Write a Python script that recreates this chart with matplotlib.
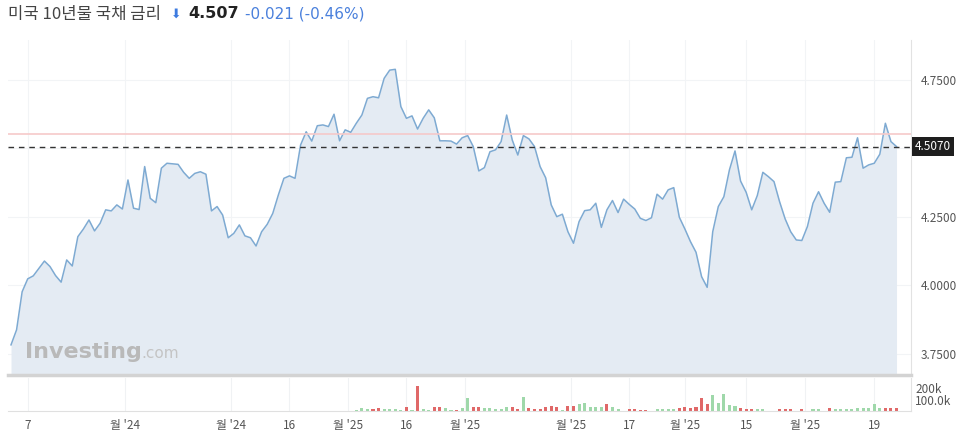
import matplotlib.pyplot as plt
import matplotlib.transforms as mtransforms
import numpy as np

plt.rcParams['font.family'] = ['Noto Sans CJK KR', 'DejaVu Sans']

# yield series (one value per session)
yields = [
    3.783, 3.838, 3.977, 4.024, 4.035, 4.062, 4.089, 4.069, 4.036, 4.012,
    4.093, 4.071, 4.178, 4.206, 4.239, 4.199, 4.227, 4.276, 4.272, 4.294,
    4.279, 4.385, 4.282, 4.277, 4.434, 4.318, 4.302, 4.428, 4.446, 4.444,
    4.442, 4.413, 4.391, 4.409, 4.415, 4.406, 4.272, 4.288, 4.257, 4.174,
    4.190, 4.221, 4.181, 4.174, 4.144, 4.196, 4.223, 4.263, 4.330, 4.391,
    4.400, 4.391, 4.513, 4.561, 4.527, 4.583, 4.586, 4.580, 4.625, 4.528,
    4.568, 4.559, 4.592, 4.622, 4.683, 4.689, 4.685, 4.756, 4.786, 4.789,
    4.653, 4.610, 4.619, 4.571, 4.610, 4.641, 4.612, 4.528, 4.528, 4.527,
    4.516, 4.539, 4.547, 4.507, 4.418, 4.430, 4.488, 4.495, 4.525, 4.622,
    4.531, 4.476, 4.547, 4.535, 4.507, 4.434, 4.393, 4.294, 4.251, 4.260,
    4.196, 4.154, 4.233, 4.273, 4.276, 4.300, 4.212, 4.276, 4.310, 4.266,
    4.315, 4.296, 4.279, 4.245, 4.237, 4.247, 4.333, 4.315, 4.349, 4.357,
    4.249, 4.206, 4.160, 4.121, 4.032, 3.993, 4.196, 4.288, 4.324, 4.422,
    4.491, 4.381, 4.340, 4.276, 4.328, 4.413, 4.397, 4.379, 4.306, 4.243,
    4.196, 4.166, 4.164, 4.215, 4.300, 4.342, 4.300, 4.267, 4.377, 4.379,
    4.466, 4.468, 4.539, 4.428, 4.440, 4.446, 4.479, 4.592, 4.525, 4.507,
]

# volume (thousands) starts at session 62; 'g' = up, 'r' = down
vol_start = 62
volume = [
    8, 23, 17, 17, 23, 17, 17, 17, 12, 32,
    12, 217, 17, 10, 32, 32, 23, 8, 10, 26,
    110, 37, 32, 26, 23, 20, 17, 32, 37, 17,
    124, 29, 17, 17, 32, 43, 32, 8, 46, 43,
    58, 67, 37, 32, 32, 58, 32, 17, 0, 17,
    17, 8, 8, 0, 14, 14, 17, 17, 23, 37,
    23, 32, 110, 58, 139, 67, 148, 52, 46, 23,
    17, 17, 17, 14, 0, 0, 14, 14, 17, 0,
    14, 0, 14, 14, 0, 29, 14, 14, 17, 17,
    23, 23, 23, 58, 23, 29, 29, 29,
]
vol_dir = list(
    'gggrrggggr' 'grggrrggrg' 'grrgggggrr' 'grrrrrrgrr'
    'gggggrgggr' 'rrrgggggrr' 'rrrrgggggr' 'rrggggrrrg'
    'rggggrgggg' 'gggggrrr'
)

last_price = 4.507
prev_line = 4.553
tick_pos = [3, 20.5, 39.5, 50, 60.5, 71, 81.5, 100.5, 111, 121, 132, 142.5, 155]
tick_labels = ['7', "월 '24", "월 '24", '16', "월 '25", '16', "월 '25",
               "월 '25", '17', "월 '25", '15', "월 '25", '19']
y_ticks = [3.75, 4.0, 4.25, 4.5, 4.75]

x = np.arange(len(yields))
fig = plt.figure(figsize=(9.66, 4.4), dpi=100)
ax = fig.add_axes([8 / 966, 1 - 375 / 440, 903 / 966, 335 / 440])
axv = fig.add_axes([8 / 966, 1 - 411 / 440, 903 / 966, 33 / 440])

xlim = (-0.54, 161.6)
ylo, yhi = 3.673, 4.896

# main price panel
ax.fill_between(x, yields, ylo, color='#e4ebf3', lw=0)
ax.plot(x, yields, color='#7eaad2', lw=1.1)
ax.axhline(prev_line, color='#f6c9c9', lw=1.2)
ax.axhline(last_price, color='#333333', lw=1, dashes=(4, 3.5))
ax.set_xlim(*xlim)
ax.set_ylim(ylo, yhi)
ax.set_yticks(y_ticks)
# the 4.5 label sits under the last-price box
ax.set_yticklabels(['' if v == 4.5 else f'{v:.4f}' for v in y_ticks])
ax.yaxis.tick_right()
ax.tick_params(axis='y', length=0, pad=7, labelsize=8.5, labelcolor='#555555')
ax.set_xticks(tick_pos)
ax.tick_params(axis='x', length=0, labelbottom=False)
ax.grid(True, color='#f2f4f6', lw=0.8)
ax.set_axisbelow(True)
for s in ['top', 'left']:
    ax.spines[s].set_visible(False)
ax.spines['right'].set_color('#e2e2e2')
ax.spines['bottom'].set_color('#d3d3d3')
ax.spines['bottom'].set_linewidth(2.5)

trans = mtransforms.blended_transform_factory(ax.transAxes, ax.transData)
ax.text(1.004, last_price, f'{last_price:.4f}', transform=trans, ha='left', va='center',
        fontsize=8.5, color='white',
        bbox=dict(boxstyle='square,pad=0.25', fc='#1e1e1e', ec='none'))

# watermark
ax.text(0.019, 0.05, 'Investing', transform=ax.transAxes, fontsize=16, fontweight='bold',
        color='#b9b9b9', family='DejaVu Sans', ha='left', va='baseline')
ax.text(0.148, 0.05, '.com', transform=ax.transAxes, fontsize=11,
        color='#c4c4c4', family='DejaVu Sans', ha='left', va='baseline')

# volume panel
vx = np.arange(vol_start, vol_start + len(volume))
vcol = ['#9fd8aa' if d == 'g' else '#e06868' for d in vol_dir]
axv.bar(vx, volume, width=0.55, color=vcol, lw=0)
axv.set_xlim(*xlim)
axv.set_ylim(0, 287)
axv.set_yticks([100, 200])
axv.set_yticklabels(['100.0k', '200k'])
axv.yaxis.tick_right()
axv.tick_params(axis='y', length=0, pad=3, labelsize=8.5, labelcolor='#555555')
axv.set_xticks(tick_pos)
axv.set_xticklabels(tick_labels)
axv.tick_params(axis='x', length=0, pad=6, labelsize=8.5, labelcolor='#555555')
axv.grid(True, axis='x', color='#f0f2f4', lw=0.8)
axv.set_axisbelow(True)
for s in ['top', 'left']:
    axv.spines[s].set_visible(False)
axv.spines['right'].set_color('#e2e2e2')
axv.spines['bottom'].set_color('#e0e0e0')

# header
fig.text(8 / 966, 1 - 14 / 440, '미국 10년물 국채 금리', fontsize=12, color='#444444',
         ha='left', va='center')
fig.text(171 / 966, 1 - 14 / 440, '⬇', fontsize=9, color='#3d7be0',
         ha='left', va='center', family=['DejaVu Sans'])
fig.text(188 / 966, 1 - 14 / 440, f'{last_price:.3f}', fontsize=11.5, fontweight='bold',
         color='#222222', ha='left', va='center', family='DejaVu Sans')
fig.text(245 / 966, 1 - 14 / 440, '-0.021 (-0.46%)', fontsize=11, color='#4a80dc',
         ha='left', va='center', family='DejaVu Sans')

fig.savefig('out.png', dpi=100)
